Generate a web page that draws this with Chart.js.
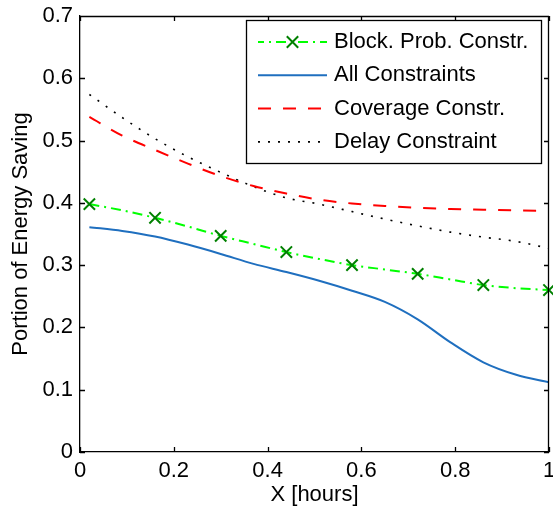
<!DOCTYPE html>
<html><head><meta charset="utf-8">
<style>html,body{margin:0;padding:0;background:#fff;overflow:hidden;}canvas{display:block;}</style>
<script src="https://cdn.jsdelivr.net/npm/chart.js@4"></script>
</head><body>
<canvas id="c" width="553" height="508"></canvas>
<script>
const xValues = [0.02,0.09,0.16,0.23,0.30,0.37,0.44,0.51,0.58,0.65,0.72,0.79,0.86,0.93,1.00];
const blockProb = [0.398,0.388,0.376,0.362,0.347,0.334,0.321,0.310,0.300,0.293,0.286,0.277,0.268,0.263,0.260];
const allConstraints = [0.361,0.355,0.346,0.333,0.318,0.302,0.289,0.275,0.259,0.241,0.213,0.176,0.144,0.124,0.112];
const coverage = [0.538,0.508,0.485,0.463,0.443,0.427,0.415,0.405,0.399,0.395,0.392,0.390,0.389,0.388,0.387];
const delay = [0.574,0.537,0.503,0.474,0.449,0.426,0.408,0.398,0.386,0.374,0.363,0.353,0.345,0.338,0.327];
const seriesLabels = ['Block. Prob. Constr.','All Constraints','Coverage Constr.','Delay Constraint'];
const xTicks = [0,0.2,0.4,0.6,0.8,1];
const xTickLabels = ['0','0.2','0.4','0.6','0.8','1'];
const yTicks = [0,0.1,0.2,0.3,0.4,0.5,0.6,0.7];
const yTickLabels = ['0','0.1','0.2','0.3','0.4','0.5','0.6','0.7'];
const xTitle = 'X [hours]';
const yTitle = 'Portion of Energy Saving';

const FONT = '"Liberation Sans", Arial, Helvetica, sans-serif';
const pts = arr => arr.map((v,i)=>({x:xValues[i], y:v}));

function drawX(ctx, cx, cy, h){
  ctx.beginPath();
  ctx.moveTo(cx-h, cy-h); ctx.lineTo(cx+h, cy+h);
  ctx.moveTo(cx-h, cy+h); ctx.lineTo(cx+h, cy-h);
  ctx.stroke();
}

const framePlugin = {
  id: 'frame',
  afterDraw(chart){
    const {ctx, chartArea:a, scales:{x, y}} = chart;
    ctx.save();
    ctx.strokeStyle = '#000';
    ctx.lineWidth = 1.3;
    ctx.setLineDash([]);
    ctx.beginPath();
    ctx.moveTo(a.left, a.top+0.5); ctx.lineTo(a.right, a.top+0.5);
    ctx.moveTo(a.right-0.5, a.top); ctx.lineTo(a.right-0.5, a.bottom);
    const L = 5;
    x.ticks.forEach(t => {
      const px = Math.round(x.getPixelForValue(t.value)) + 0.5;
      ctx.moveTo(px, a.bottom); ctx.lineTo(px, a.bottom - L);
      ctx.moveTo(px, a.top); ctx.lineTo(px, a.top + L);
    });
    y.ticks.forEach(t => {
      const py = Math.round(y.getPixelForValue(t.value)) + 0.5;
      ctx.moveTo(a.left, py); ctx.lineTo(a.left + L, py);
      ctx.moveTo(a.right, py); ctx.lineTo(a.right - L, py);
    });
    ctx.stroke();

    // legend box
    const bw = 295, bh = 143;
    const bx = a.right - 8 - bw, by = a.top + 4;
    ctx.fillStyle = '#fff';
    ctx.fillRect(bx, by, bw, bh);
    ctx.lineWidth = 1.3;
    ctx.strokeStyle = '#000';
    ctx.strokeRect(bx + 0.5, by + 0.5, bw, bh);
    ctx.font = '22px ' + FONT;
    ctx.textBaseline = 'middle';
    ctx.textAlign = 'left';
    chart.data.datasets.forEach((ds, i) => {
      const ry = by + 22 + i * 33.3;
      const x0 = bx + 12, x1 = bx + 81;
      ctx.save();
      ctx.strokeStyle = ds.borderColor;
      ctx.lineWidth = ds.borderWidth;
      ctx.setLineDash(ds.borderDash || []);
      ctx.lineDashOffset = ds.legendDashOffset || 0;
      ctx.beginPath(); ctx.moveTo(x0, ry); ctx.lineTo(x1, ry); ctx.stroke();
      ctx.restore();
      if (ds.legendMarker) {
        ctx.save();
        ctx.strokeStyle = ds.pointBorderColor;
        ctx.lineWidth = ds.pointBorderWidth;
        ctx.setLineDash([]);
        drawX(ctx, (x0 + x1) / 2, ry, 5.7);
        ctx.restore();
      }
      ctx.fillStyle = '#000';
      ctx.fillText(ds.label, bx + 88, ry);
    });
    ctx.restore();
  }
};

new Chart(document.getElementById('c'), {
  type: 'line',
  data: {
    datasets: [
      {label: seriesLabels[0], data: pts(blockProb), borderColor: '#00ff00', borderWidth: 2,
       borderDash: [10,5,2,5], legendDashOffset: 4, cubicInterpolationMode: 'monotone',
       pointStyle: 'crossRot', pointRadius: c => (c.dataIndex % 2 === 0 ? 8 : 0),
       pointBorderColor: '#008000', pointBorderWidth: 2, pointBackgroundColor: '#008000',
       legendMarker: true, clip: false},
      {label: seriesLabels[1], data: pts(allConstraints), borderColor: '#1f6fbf', borderWidth: 2,
       cubicInterpolationMode: 'monotone', pointRadius: 0},
      {label: seriesLabels[2], data: pts(coverage), borderColor: '#ff0000', borderWidth: 2,
       borderDash: [13,12], cubicInterpolationMode: 'monotone', pointRadius: 0},
      {label: seriesLabels[3], data: pts(delay), borderColor: '#000000', borderWidth: 1.6,
       borderDash: [2,8], cubicInterpolationMode: 'monotone', pointRadius: 0}
    ]
  },
  options: {
    responsive: false, animation: false, devicePixelRatio: 1,
    layout: {autoPadding: false, padding: {left: 0, right: 4, top: 16, bottom: 0}},
    plugins: {legend: {display: false}, tooltip: {enabled: false}},
    scales: {
      x: {
        type: 'linear', min: 0, max: 1,
        afterBuildTicks: s => { s.ticks = xTicks.map(v => ({value: v})); },
        ticks: {callback: (v, i) => xTickLabels[i], font: {family: FONT, size: 22}, color: '#000',
                padding: 6, maxRotation: 0, autoSkip: false},
        grid: {display: false, drawTicks: false},
        border: {display: true, color: '#000', width: 1.3},
        title: {display: true, text: xTitle, font: {family: FONT, size: 22}, color: '#000', padding: 0},
        afterFit: s => { s.height = 56; s.paddingLeft = 0; s.paddingRight = 0; }
      },
      y: {
        type: 'linear', min: 0, max: 0.7,
        afterBuildTicks: s => { s.ticks = yTicks.map(v => ({value: v})); },
        ticks: {callback: (v, i) => yTickLabels[i], font: {family: FONT, size: 22}, color: '#000',
                padding: 7, autoSkip: false},
        grid: {display: false, drawTicks: false},
        border: {display: true, color: '#000', width: 1.3},
        title: {display: true, text: yTitle, font: {family: FONT, size: 22}, color: '#000', padding: {top: 8, bottom: 8}},
        afterFit: s => { s.width = 80; s.paddingTop = 0; s.paddingBottom = 0; }
      }
    }
  },
  plugins: [framePlugin]
});
</script>
</body></html>
